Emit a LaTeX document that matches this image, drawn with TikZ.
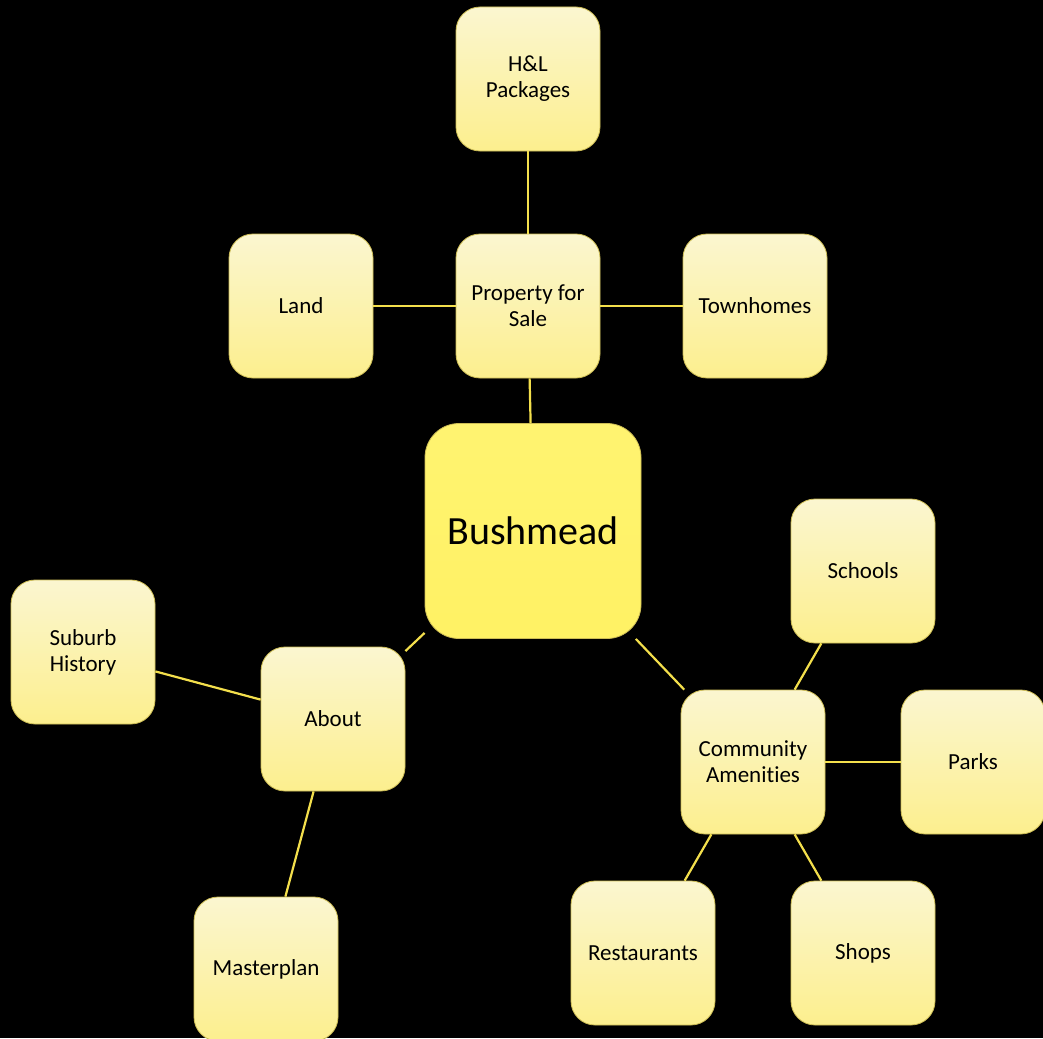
\documentclass[tikz,border=0pt]{standalone}
\usepackage{fontspec}
\setmainfont{Carlito}[Ligatures={NoCommon}]
\definecolor{boxtop}{HTML}{FBF6D0}
\definecolor{boxbot}{HTML}{FCEF8E}
\definecolor{boxedge}{HTML}{CDBD55}
\definecolor{linecol}{HTML}{F3DF4C}
\definecolor{maincol}{HTML}{FFF264}
\tikzset{
  leaf/.style={rectangle, rounded corners=24pt, minimum width=144pt, minimum height=144pt,
    top color=boxtop, bottom color=boxbot, draw=boxedge, line width=0.8pt,
    align=center, font=\fontsize{23}{26}\selectfont, text=black, inner sep=2pt},
  hub/.style={rectangle, rounded corners=34pt, minimum width=216pt, minimum height=215pt,
    top color=maincol!92!white, bottom color=maincol, draw=boxedge, line width=0.8pt,
    align=center, font=\fontsize{40}{44}\selectfont, text=black},
  conn/.style={draw=linecol, line width=2.2pt}
}
\begin{document}
\begin{tikzpicture}[x=1pt,y=-1pt]
\fill[black] (0,0) rectangle (1043,1038);
\useasboundingbox (0,0) rectangle (1043,1038);
\node[hub] (bush) at (533,531) {Bushmead};
\node[leaf] (prop) at (528,306) {Property for\\Sale};
\node[leaf] (hl) at (528,79) {H\&L\\Packages};
\node[leaf] (land) at (301,306) {Land};
\node[leaf] (town) at (755,306) {Townhomes};
\node[leaf] (about) at (333,719) {About};
\node[leaf] (hist) at (83,652) {Suburb\\History};
\node[leaf] (master) at (266,969) {Masterplan};
\node[leaf] (comm) at (753,762) {Community\\Amenities};
\node[leaf] (schools) at (863,571) {Schools};
\node[leaf] (parks) at (973,762) {Parks};
\node[leaf] (rest) at (643,953) {Restaurants};
\node[leaf] (shops) at (863,953) {Shops};
\draw[conn] (hl) -- (prop);
\draw[conn] (land) -- (prop);
\draw[conn] (prop) -- (town);
\draw[conn] (prop) -- (bush);
\draw[conn] (bush) -- (about);
\draw[conn] (bush) -- (comm);
\draw[conn] (hist) -- (about);
\draw[conn] (about) -- (master);
\draw[conn] (comm) -- (schools);
\draw[conn] (comm) -- (parks);
\draw[conn] (comm) -- (rest);
\draw[conn] (comm) -- (shops);
\end{tikzpicture}
\end{document}
